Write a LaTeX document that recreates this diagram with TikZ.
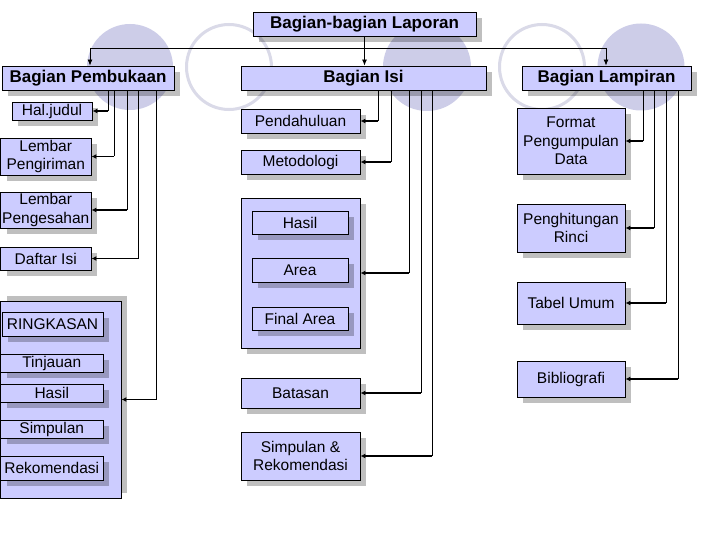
\documentclass[tikz,border=0pt]{standalone}
\usepackage{fontspec}
\setmainfont{Liberation Sans}
\usetikzlibrary{arrows.meta,shadows}
\definecolor{boxfill}{RGB}{204,204,255}
\definecolor{circfill}{RGB}{205,205,232}
\definecolor{circline}{RGB}{218,218,232}
\tikzset{
  bx/.style={draw=black, line width=0.9pt, fill=boxfill, inner sep=0pt, align=center,
    font=\fontsize{15.5}{18.5}\selectfont,
    drop shadow={shadow xshift=6pt, shadow yshift=-6pt, fill=black, opacity=0.25}},
  hd/.style={bx, font=\fontsize{17}{20}\selectfont\bfseries},
  upbx/.style={draw=black, line width=0.9pt, fill=boxfill, inner sep=0pt,
    drop shadow={shadow xshift=6pt, shadow yshift=5pt, fill=black, opacity=0.25}},
  vline/.style={line width=0.8pt},
  harr/.style={line width=1.6pt, -{Latex[length=5pt,width=5pt]}},
  tarr/.style={line width=0.8pt, -{Latex[length=6pt,width=5pt]}},
  fcirc/.style={circle, fill=circfill, draw=none, inner sep=0pt, minimum size=#1},
  ocirc/.style={circle, draw=circline, line width=3pt, inner sep=0pt, minimum size=#1}
}
\newcommand\mkbox[7][bx]{\node[#1, minimum width={(#5-#3)*1pt}, minimum height={(#6-#4)*1pt}] (#2) at ({(#3+#5)/2},{(#4+#6)/2}) {#7};}
\newcommand\conn[3]{\coordinate (tmp) at (#2,0);
  \draw[vline] (#1.south -| tmp) -- (#3.east -| tmp);
  \draw[harr] (#3.east -| tmp) -- (#3.east);}
\begin{document}
\begin{tikzpicture}[x=1pt,y=-1pt]
\useasboundingbox (0,0) rectangle (720,540);
\fill[white] (0,0) rectangle (720,540);
% background circles
\node[fcirc=86pt] (c1) at (130,67) {};
\node[ocirc=85pt] (c2) at (229,67) {};
\node[fcirc=88pt] (c3) at (427,67) {};
\node[ocirc=85pt] (c4) at (542,67) {};
\node[fcirc=87pt] (c5) at (641,67) {};
% headers
\mkbox[hd]{top}{253}{12}{476}{36}{Bagian-bagian Laporan}
\mkbox[hd]{pem}{2}{66}{174}{90}{Bagian Pembukaan}
\mkbox[hd]{isi}{241}{66}{486}{90}{Bagian Isi}
\mkbox[hd]{lam}{522}{66}{691}{90}{Bagian Lampiran}
% Pembukaan
\mkbox{hal}{12}{102}{92}{120}{Hal.judul}
\mkbox{kirim}{0.5}{138}{91}{175}{Lembar\\Pengiriman}
\mkbox{sah}{0.5}{192}{91}{228}{Lembar\\Pengesahan}
\mkbox{daftar}{0.5}{247}{91}{270}{Daftar Isi}
\mkbox[upbx]{ringbox}{0.5}{301}{121}{498}{}
\mkbox{ring}{2}{312}{103}{336}{RINGKASAN}
\mkbox{tinjau}{0.5}{354}{103}{372}{Tinjauan}
\mkbox{hasila}{0.5}{384}{103}{402}{Hasil}
\mkbox{simp}{0.5}{420}{103}{438}{Simpulan}
\mkbox{rekom}{0.5}{456}{103}{480}{Rekomendasi}
% Isi
\mkbox{pend}{241}{109}{360}{133}{Pendahuluan}
\mkbox{meto}{241}{150}{360}{174}{Metodologi}
\mkbox[bx]{isibox}{241}{198}{360}{348}{}
\mkbox{hasilb}{252}{211}{348}{234}{Hasil}
\mkbox{area}{252}{258}{348}{282}{Area}
\mkbox{final}{252}{307}{348}{330}{Final Area}
\mkbox{batas}{241}{378}{360}{408}{Batasan}
\mkbox{simprek}{241}{432}{360}{480}{Simpulan \&\\Rekomendasi}
% Lampiran
\mkbox{fmt}{517}{108}{625}{174}{Format\\Pengumpulan\\Data}
\mkbox{hitung}{517}{204}{625}{252}{Penghitungan\\Rinci}
\mkbox{tabel}{517}{282}{625}{324}{Tabel Umum}
\mkbox{biblio}{517}{361}{625}{397}{Bibliografi}
% top connectors
\coordinate (hl) at (90,48);
\coordinate (hr) at (606,48);
\draw[vline] (hl) -- (hr);
\draw[tarr] (hl) -- (hl |- pem.north);
\draw[tarr] (hr) -- (hr |- lam.north);
\draw[tarr] (top.south) -- (top.south |- isi.north);
% Pembukaan connectors
\conn{pem}{108}{hal}
\conn{pem}{114}{kirim}
\conn{pem}{127}{sah}
\conn{pem}{138}{daftar}
\conn{pem}{156}{ringbox}
% Isi connectors
\conn{isi}{378}{pend}
\conn{isi}{391}{meto}
\conn{isi}{409}{isibox}
\conn{isi}{421}{batas}
\conn{isi}{432}{simprek}
% Lampiran connectors
\conn{lam}{643}{fmt}
\conn{lam}{654}{hitung}
\conn{lam}{666}{tabel}
\conn{lam}{678}{biblio}
\end{tikzpicture}
\end{document}
